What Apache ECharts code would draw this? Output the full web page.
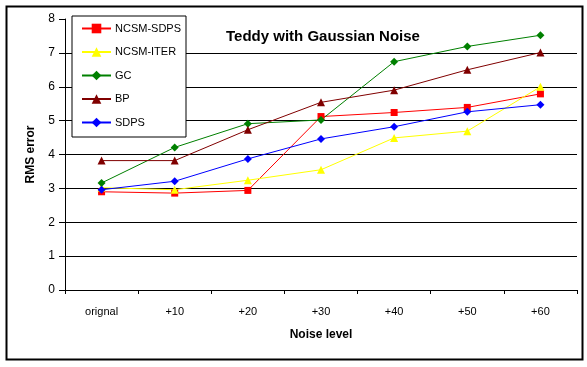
<!DOCTYPE html>
<html><head><meta charset="utf-8">
<script src="https://cdn.jsdelivr.net/npm/echarts@6/dist/echarts.min.js"></script>
<style>html,body{margin:0;padding:0;background:#fff}#c{width:587px;height:367px}</style>
</head><body><div id="c"></div>
<script>
var categories = ['orignal', '+10', '+20', '+30', '+40', '+50', '+60'];
var ncsmSdps = [2.90, 2.86, 2.94, 5.12, 5.24, 5.39, 5.79];
var ncsmIter = [3.02, 2.96, 3.24, 3.55, 4.49, 4.69, 6.00];
var gc       = [3.16, 4.21, 4.91, 5.02, 6.74, 7.19, 7.52];
var bp       = [3.82, 3.82, 4.73, 5.54, 5.90, 6.50, 7.01];
var sdps     = [2.96, 3.21, 3.87, 4.46, 4.82, 5.26, 5.47];
var yTicks = [0, 1, 2, 3, 4, 5, 6, 7, 8];

var font = 'Arial, "Liberation Sans", sans-serif';
function mk(name, data, color, symbol, size) {
  return {
    name: name, type: 'line', data: data, symbol: symbol, symbolSize: size,
    itemStyle: { color: color }, lineStyle: { color: color, width: 1 },
    animation: false
  };
}
var chart = echarts.init(document.getElementById('c'), null, { renderer: 'canvas' });
chart.setOption({
  backgroundColor: '#fff',
  animation: false,
  title: {
    text: 'Teddy with Gaussian Noise', left: 318, top: 24, textAlign: 'center',
    textStyle: { fontFamily: font, fontSize: 15, fontWeight: 'bold', color: '#000' }
  },
  legend: {
    orient: 'vertical', left: 72, top: 16,
    padding: [7, 5, 9, 9], itemGap: 12.5, itemWidth: 29, itemHeight: 12,
    backgroundColor: '#fff', borderColor: '#000', borderWidth: 1,
    textStyle: { fontFamily: font, fontSize: 11, color: '#000', padding: [0, 0, 0, -1] },
    data: ['NCSM-SDPS', 'NCSM-ITER', 'GC', 'BP', 'SDPS']
  },
  grid: { left: 65, right: 10, top: 19, bottom: 77 },
  xAxis: {
    type: 'category', data: categories, boundaryGap: true,
    name: 'Noise level', nameLocation: 'middle', nameGap: 39,
    nameTextStyle: { fontFamily: font, fontSize: 12, fontWeight: 'bold', color: '#000' },
    axisLine: { lineStyle: { color: '#000', width: 1 } },
    axisTick: { show: true, interval: 0, length: 4, lineStyle: { color: '#000' } },
    axisLabel: { fontFamily: font, fontSize: 11, color: '#000', margin: 16, interval: 0 },
    splitLine: { show: false }
  },
  yAxis: {
    type: 'value', min: 0, max: 8, interval: 1,
    name: 'RMS error', nameLocation: 'middle', nameGap: 28, nameRotate: 90,
    nameTextStyle: { fontFamily: font, fontSize: 12, fontWeight: 'bold', color: '#000' },
    axisLine: { show: true, lineStyle: { color: '#000', width: 1 } },
    axisTick: { show: true, length: 6, lineStyle: { color: '#000' } },
    axisLabel: { fontFamily: font, fontSize: 12, color: '#000', margin: 10 },
    splitLine: { show: true, lineStyle: { color: ['#000','#000','#000','#000','#000','#000','#000','#000','rgba(0,0,0,0)'], width: 1 } }
  },
  graphic: [{
    type: 'rect', left: 4, top: 4, z: 100, silent: true,
    shape: { width: 576, height: 353 },
    style: { fill: 'none', stroke: '#000', lineWidth: 2 }
  }],
  series: [
    mk('NCSM-SDPS', ncsmSdps, '#ff0000', 'rect', 7),
    mk('NCSM-ITER', ncsmIter, '#ffff00', 'triangle', 8),
    mk('GC', gc, '#008000', 'diamond', 8),
    mk('BP', bp, '#800000', 'triangle', 8),
    mk('SDPS', sdps, '#0000ff', 'diamond', 8)
  ]
});
</script></body></html>
